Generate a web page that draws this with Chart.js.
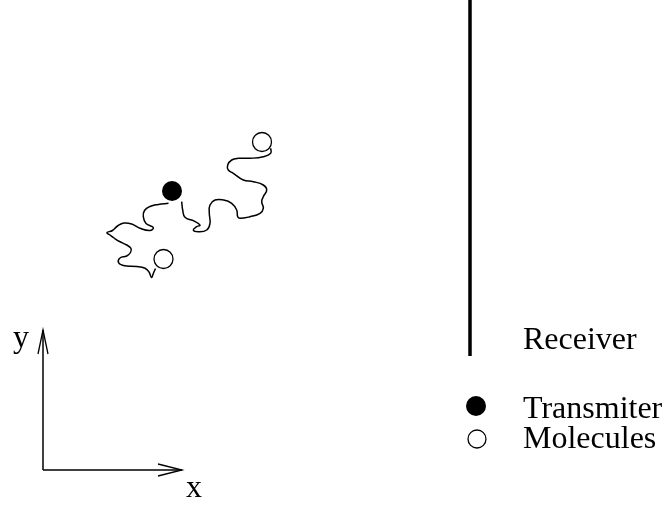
<!DOCTYPE html>
<html>
<head>
<meta charset="utf-8">
<script src="https://cdn.jsdelivr.net/npm/chart.js@4.4.1/dist/chart.umd.min.js"></script>
<style>
  html, body { margin: 0; padding: 0; background: #fff; }
  #wrap { width: 664px; height: 506px; }
</style>
</head>
<body>
<div id="wrap"><canvas id="c" width="664" height="506"></canvas></div>
<script>
// Diagram coordinates (x to the right, y downward)
const pathToLowerMolecule = [
  [168.5,203.3],[158.3,204.5],[150,206.5],[144.5,210.5],[143.3,216.7],[146,223.5],[153.3,227.5],
  [150,230.5],[140,228.3],[131.7,224],[124,223],[117.5,226],[112.5,230.5],[107,232.7],
  [110,235],[114,238],[119.5,241.5],[126.7,245],[131,248.5],[130.5,252.5],[126.7,256],[120,258],
  [118.5,262.5],[123.3,265.5],[136.7,266.5],[145,268.3],[149,272],[151.5,277.5],[153.5,273],[155.5,268.5]
];
const pathToUpperMolecule = [
  [181.7,201.7],[182.7,210],[185,217.3],[193.3,220.7],[200,225],[196.7,226.7],[193.3,230],
  [198.3,231.7],[206.7,230],[210,223.3],[209.3,213.3],[210,205],[215,200],[223.3,200],
  [231.7,203.3],[236.7,210],[237.7,216.7],[240,218.3],[250,216.7],[260,213.3],[263.3,208.3],
  [261.7,201.7],[263.3,196.7],[266.7,190],[263.3,185],[253.3,181.7],[243.3,180],[233.3,173.3],
  [228.3,170],[227.7,165],[231.7,160],[238.3,158.3],[250,158.3],[263.3,156.7],[270.7,153.3],[270.7,148.3]
];
const transmitter = [[172,191]];
const molecules = [[262,142],[163.5,259]];
const receiverLine = [[470,0],[470,356]];
const yAxisArrow = [[43,470],[43,330]];
const yArrowHead = [[38,354],[43,330],[48,354]];
const xAxisArrow = [[43,470],[182,470]];
const xArrowHead = [[158,464],[182,470],[158,476]];
const legendTransmitter = [[476,406]];
const legendMolecule = [[477,439]];
const labelTexts = ["Receiver", "Transmiter", "Molecules", "y", "x"];
const labelAnchors = [[523,349],[523,418],[523,448],[13,347],[186,497]];

const pts = a => a.map(p => ({x: p[0], y: p[1]}));
const lineDs = (data, w, tension) => ({
  data: pts(data), showLine: true, borderColor: '#000', borderWidth: w,
  pointRadius: 0, tension: tension || 0, fill: false, clip: false
});
const pointDs = (data, r, filled) => ({
  data: pts(data), showLine: false, pointRadius: r, pointHoverRadius: r,
  pointBackgroundColor: filled ? '#000' : '#fff', pointBorderColor: '#000',
  pointBorderWidth: filled ? 0 : 1.3, clip: false
});

const textPlugin = {
  id: 'labels',
  afterDatasetsDraw(chart) {
    const ctx = chart.ctx, xs = chart.scales.x, ys = chart.scales.y;
    ctx.save();
    ctx.fillStyle = '#000';
    ctx.font = '32px "Liberation Serif", "Times New Roman", serif';
    ctx.textBaseline = 'alphabetic';
    ctx.textAlign = 'left';
    labelTexts.forEach((t, i) => {
      ctx.fillText(t, xs.getPixelForValue(labelAnchors[i][0]), ys.getPixelForValue(labelAnchors[i][1]));
    });
    ctx.restore();
  }
};

new Chart(document.getElementById('c'), {
  type: 'scatter',
  data: {
    datasets: [
      lineDs(pathToLowerMolecule, 1.5, 0.45),
      lineDs(pathToUpperMolecule, 1.5, 0.45),
      lineDs(receiverLine, 3.5),
      lineDs(yAxisArrow, 1.5),
      lineDs(yArrowHead, 1.3),
      lineDs(xAxisArrow, 1.5),
      lineDs(xArrowHead, 1.3),
      pointDs(transmitter, 10, true),
      pointDs(molecules, 9.5, false),
      pointDs(legendTransmitter, 10, true),
      pointDs(legendMolecule, 9, false)
    ]
  },
  options: {
    responsive: false,
    maintainAspectRatio: false,
    devicePixelRatio: 1,
    animation: false,
    layout: { padding: 0, autoPadding: false },
    plugins: { legend: { display: false }, tooltip: { enabled: false } },
    scales: {
      x: { type: 'linear', min: 0, max: 664, display: false },
      y: { type: 'linear', min: 0, max: 506, reverse: true, display: false }
    }
  },
  plugins: [textPlugin]
});
</script>
</body>
</html>
